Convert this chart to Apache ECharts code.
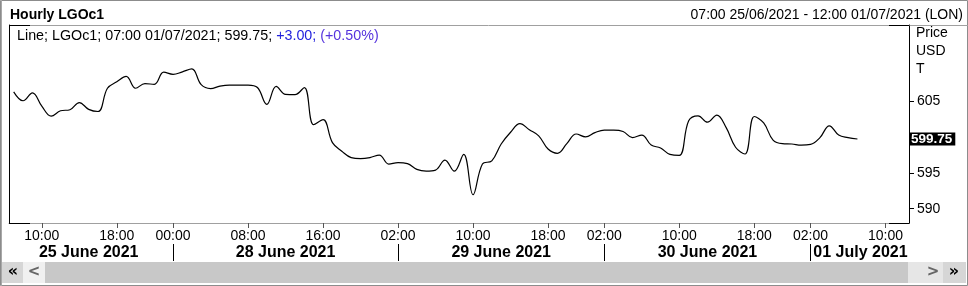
<!DOCTYPE html>
<html>
<head>
<meta charset="utf-8">
<script src="https://cdn.jsdelivr.net/npm/echarts@6/dist/echarts.min.js"></script>
<style>
html,body{margin:0;padding:0;background:#fff;}
#chart{width:968px;height:286px;}
</style>
</head>
<body>
<div id="chart"></div>
<script>
const chartTitle = 'Hourly LGOc1';
const rangeText = '07:00 25/06/2021 - 12:00 01/07/2021 (LON)';
const instrument = 'LGOc1';
const lastTime = '07:00 01/07/2021';
const lastValue = 599.75;
const changeText = '+3.00';
const changePctText = '(+0.50%)';
const unitLines = ['Price', 'USD', 'T'];

const categories = [
  '25/06 07:00','25/06 08:00','25/06 09:00','25/06 10:00','25/06 11:00','25/06 12:00','25/06 13:00','25/06 14:00',
  '25/06 15:00','25/06 16:00','25/06 17:00','25/06 18:00','25/06 19:00','25/06 20:00','25/06 21:00','25/06 22:00','25/06 23:00',
  '28/06 00:00','28/06 01:00','28/06 02:00','28/06 03:00','28/06 04:00','28/06 05:00','28/06 06:00','28/06 07:00',
  '28/06 08:00','28/06 09:00','28/06 10:00','28/06 11:00','28/06 12:00','28/06 13:00','28/06 14:00','28/06 15:00',
  '28/06 16:00','28/06 17:00','28/06 18:00','28/06 19:00','28/06 20:00','28/06 21:00','28/06 22:00','28/06 23:00',
  '29/06 02:00','29/06 03:00','29/06 04:00','29/06 05:00','29/06 06:00','29/06 07:00','29/06 08:00','29/06 09:00',
  '29/06 10:00','29/06 11:00','29/06 12:00','29/06 13:00','29/06 14:00','29/06 15:00','29/06 16:00','29/06 17:00',
  '29/06 18:00','29/06 19:00','29/06 20:00','29/06 21:00','29/06 22:00','29/06 23:00',
  '30/06 02:00','30/06 03:00','30/06 04:00','30/06 05:00','30/06 06:00','30/06 07:00','30/06 08:00','30/06 09:00',
  '30/06 10:00','30/06 11:00','30/06 12:00','30/06 13:00','30/06 14:00','30/06 15:00','30/06 16:00','30/06 17:00',
  '30/06 18:00','30/06 19:00','30/06 20:00','30/06 21:00','30/06 22:00','30/06 23:00',
  '01/07 02:00','01/07 03:00','01/07 04:00','01/07 05:00','01/07 06:00','01/07 07:00','01/07 08:00','01/07 09:00',
  '01/07 10:00','01/07 11:00','01/07 12:00'
];

const prices = [
  606.35, 605.1, 606.2, 604.35, 602.95, 603.7, 603.85, 604.85, 603.9, 603.6,
  606.85, 607.75, 608.5, 606.85, 607.5, 607.4, 609.1,
  608.8, 609.15, 609.55, 607.35, 606.8, 607.15, 607.3, 607.3, 607.3, 606.95, 604.6,
  607.1, 606.0, 605.95, 606.95, 601.75, 602.45, 599.25, 598.05, 597.15, 597.0, 597.15, 597.5, 596.25,
  596.45, 596.3, 595.5, 595.25, 595.4, 596.8, 595.25, 597.6, 591.95, 596.25, 596.7, 599.05,
  600.7, 601.9, 601.05, 600.2, 598.35, 597.75, 599.1, 600.45, 600.05, 600.65,
  601.0, 601.0, 600.8, 599.95, 600.3, 598.9, 598.5, 597.6, 597.45, 602.3, 603.0, 602.1,
  603.1, 601.35, 598.6, 597.65, 602.9, 602.0, 599.6, 599.1, 599.05, 598.9,
  599.0, 599.95, 601.6, 600.3, 599.95, 599.75
];

const timeTicks = ['25/06 10:00','25/06 18:00','28/06 00:00','28/06 08:00','28/06 16:00','29/06 02:00',
  '29/06 10:00','29/06 18:00','30/06 02:00','30/06 10:00','30/06 18:00','01/07 02:00','01/07 10:00'];
const dayNames = ['25 June 2021','28 June 2021','29 June 2021','30 June 2021','01 July 2021'];
const dayLabelAt = ['25/06 15:00','28/06 12:00','29/06 13:00','30/06 13:00','01/07 07:00'];
const daySeparators = ['28/06 00:00','29/06 02:00','30/06 02:00','01/07 02:00'];
const yLabelValues = [590, 595, 605];
const yTickValues = [590, 595, 600, 605];
const yMin = 588;
const yMax = 615.7;

const FONT = "'Liberation Sans', Arial, sans-serif";
const chart = echarts.init(document.getElementById('chart'), null, {renderer: 'canvas'});

const option = {
  animation: false,
  backgroundColor: '#ffffff',
  textStyle: {fontFamily: FONT, color: '#000'},
  title: [
    {text: chartTitle, left: 10, top: 7, padding: 0, textStyle: {fontFamily: FONT, fontSize: 14, fontWeight: 'bold', color: '#000', lineHeight: 16}},
    {text: rangeText, right: 5, top: 7, padding: 0, textStyle: {fontFamily: FONT, fontSize: 14, fontWeight: 'normal', color: '#000', lineHeight: 16}},
    {text: '{k|Line; ' + instrument + '; ' + lastTime + '; ' + lastValue.toFixed(2) + '; }{c|' + changeText + '; }{p|' + changePctText + '}',
     left: 17, top: 28, padding: 0,
     textStyle: {fontFamily: FONT, fontSize: 14, fontWeight: 'normal', lineHeight: 16,
       rich: {
         k: {fontFamily: FONT, fontSize: 14.3, color: '#000', lineHeight: 16},
         c: {fontFamily: FONT, fontSize: 14.3, color: '#2222dd', lineHeight: 16},
         p: {fontFamily: FONT, fontSize: 14.3, color: '#5533dd', lineHeight: 16}
       }}},
    {text: unitLines.join('\n'), left: 916, top: 24, padding: 0, textStyle: {fontFamily: FONT, fontSize: 14, fontWeight: 'normal', color: '#000', lineHeight: 18}}
  ],
  grid: {left: 9, right: 59, top: 25, bottom: 63, containLabel: false, show: false},
  xAxis: [
    {
      type: 'category', data: categories, boundaryGap: true, position: 'bottom',
      axisLine: {show: true, lineStyle: {color: '#a0a0a0', width: 1}},
      axisTick: {show: true, alignWithLabel: true, length: 5, interval: (i, v) => timeTicks.includes(v),
        lineStyle: {color: '#555', width: 1}},
      axisLabel: {show: true, interval: (i, v) => timeTicks.includes(v), formatter: v => v.slice(6),
        fontFamily: FONT, fontSize: 14, color: '#000', margin: 6, lineHeight: 14},
      splitLine: {show: false}
    },
    {
      type: 'category', data: categories, boundaryGap: true, position: 'bottom', offset: 21,
      axisLine: {show: false},
      axisTick: {show: true, alignWithLabel: true, length: 17, interval: (i, v) => daySeparators.includes(v),
        lineStyle: {color: '#000', width: 1}},
      axisLabel: {show: true, interval: (i, v) => dayLabelAt.includes(v),
        formatter: v => {
          const k = dayLabelAt.indexOf(v);
          return k === dayNames.length - 1 ? '{r|' + dayNames[k] + '}' : '{d|' + dayNames[k] + '}';
        },
        rich: {
          d: {fontFamily: FONT, fontSize: 16, fontWeight: 'bold', color: '#000', lineHeight: 16},
          r: {fontFamily: FONT, fontSize: 16, fontWeight: 'bold', color: '#000', lineHeight: 16, padding: [0, 0, 0, 6]}
        },
        margin: 1},
      splitLine: {show: false}
    }
  ],
  yAxis: [
    {
      type: 'value', position: 'right', min: yMin, max: yMax, scale: true,
      axisLine: {show: true, lineStyle: {color: '#000', width: 1}},
      axisTick: {show: true, length: 5, customValues: yTickValues, lineStyle: {color: '#000', width: 1}},
      axisLabel: {show: true, customValues: yLabelValues, fontFamily: FONT, fontSize: 14, color: '#000', margin: 8},
      splitLine: {show: false}
    },
    {
      type: 'value', position: 'left', min: yMin, max: yMax,
      axisLine: {show: true, lineStyle: {color: '#000', width: 1}},
      axisTick: {show: false}, axisLabel: {show: false}, splitLine: {show: false}
    }
  ],
  series: [{
    type: 'line', data: prices, xAxisIndex: 0, yAxisIndex: 0,
    smooth: 0.4, symbol: 'none', showSymbol: false, clip: false,
    lineStyle: {color: '#000', width: 1.2},
    emphasis: {disabled: true},
    markLine: {
      silent: true, symbol: 'none', animation: false,
      lineStyle: {color: 'rgba(0,0,0,0)', width: 1, type: 'solid'},
      data: [{yAxis: lastValue}],
      label: {show: true, position: 'end', distance: 0, formatter: () => lastValue.toFixed(2),
        backgroundColor: '#000', color: '#fff', fontFamily: FONT, fontWeight: 'bold', fontSize: 13.5,
        lineHeight: 13, padding: [0, 3, 0, 2]}
    }
  }],
  graphic: [
    {type: 'rect', z: 100, silent: true, shape: {x: 0.5, y: 0.5, width: 967, height: 285}, style: {fill: null, stroke: '#8c8c8c', lineWidth: 1}},
    {type: 'line', z: 100, silent: true, shape: {x1: 1.5, y1: 0, x2: 1.5, y2: 286}, style: {stroke: '#a8a8a8', lineWidth: 1}},
    {type: 'line', z: 100, silent: true, shape: {x1: 9, y1: 25.5, x2: 968, y2: 25.5}, style: {stroke: '#a0a0a0', lineWidth: 1}},
    {type: 'line', z: 101, silent: true, shape: {x1: 9, y1: 25.5, x2: 30, y2: 25.5}, style: {stroke: '#000', lineWidth: 1}},
    {type: 'line', z: 101, silent: true, shape: {x1: 889, y1: 25.5, x2: 909.5, y2: 25.5}, style: {stroke: '#000', lineWidth: 1}},
    {type: 'line', z: 101, silent: true, shape: {x1: 9, y1: 223.5, x2: 30, y2: 223.5}, style: {stroke: '#000', lineWidth: 1}},
    {type: 'line', z: 101, silent: true, shape: {x1: 889, y1: 223.5, x2: 909.5, y2: 223.5}, style: {stroke: '#000', lineWidth: 1}},
    {type: 'rect', z: 100, silent: true, shape: {x: 2, y: 262, width: 21, height: 21}, style: {fill: '#d6d6d6'}},
    {type: 'rect', z: 100, silent: true, shape: {x: 23, y: 262, width: 22, height: 21}, style: {fill: '#f0f0f0'}},
    {type: 'rect', z: 100, silent: true, shape: {x: 45, y: 262, width: 863, height: 21}, style: {fill: '#c8c8c8'}},
    {type: 'rect', z: 100, silent: true, shape: {x: 908, y: 262, width: 35, height: 21}, style: {fill: '#e6e6e6'}},
    {type: 'rect', z: 100, silent: true, shape: {x: 943, y: 262, width: 23, height: 21}, style: {fill: '#d6d6d6'}},
    {type: 'text', z: 101, silent: true, style: {x: 13, y: 272, text: '«', fill: '#000', font: "bold 16px 'DejaVu Sans'", align: 'center', verticalAlign: 'middle'}},
    {type: 'text', z: 101, silent: true, style: {x: 34, y: 272, text: '<', fill: '#666', font: "bold 15px 'DejaVu Sans'", align: 'center', verticalAlign: 'middle'}},
    {type: 'text', z: 101, silent: true, style: {x: 933, y: 272, text: '>', fill: '#666', font: "bold 15px 'DejaVu Sans'", align: 'center', verticalAlign: 'middle'}},
    {type: 'text', z: 101, silent: true, style: {x: 954, y: 272, text: '»', fill: '#000', font: "bold 16px 'DejaVu Sans'", align: 'center', verticalAlign: 'middle'}}
  ]
};
chart.setOption(option);
</script>
</body>
</html>
